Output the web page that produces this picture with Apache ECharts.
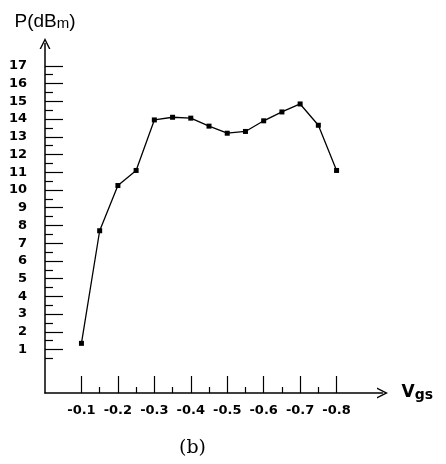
<!DOCTYPE html>
<html>
<head>
<meta charset="utf-8">
<script src="https://cdn.jsdelivr.net/npm/echarts@6/dist/echarts.min.js"></script>
<style>
  html, body { margin: 0; padding: 0; background: #fff; }
  #chart { width: 446px; height: 464px; }
</style>
</head>
<body>
<div id="chart"></div>
<script>
// Vgs (V) 和 输出功率 P (dBm)
var vgs = [-0.1, -0.15, -0.2, -0.25, -0.3, -0.35, -0.4, -0.45, -0.5, -0.55, -0.6, -0.65, -0.7, -0.75, -0.8];
var power = [1.35, 7.7, 10.25, 11.1, 13.95, 14.1, 14.05, 13.6, 13.2, 13.3, 13.9, 14.4, 14.85, 13.65, 11.1];

// 刻度
var xMajorTicks = [-0.1, -0.2, -0.3, -0.4, -0.5, -0.6, -0.7, -0.8];
var xMinorTicks = [-0.15, -0.25, -0.35, -0.45, -0.55, -0.65, -0.75];
var yMajorTicks = [1, 2, 3, 4, 5, 6, 7, 8, 9, 10, 11, 12, 13, 14, 15, 16, 17];
var yMinorTicks = [0.5, 1.5, 2.5, 3.5, 4.5, 5.5, 6.5, 7.5, 8.5, 9.5, 10.5, 11.5, 12.5, 13.5, 14.5, 15.5, 16.5];

var myChart = echarts.init(document.getElementById('chart'));

// 开口箭头
var arrowPath = 'path://M0,10 L5,0 L10,10 L8.6,10 L5,2.8 L1.4,10 Z';
var tickFont = {
    fontFamily: 'DejaVu Sans',
    fontWeight: 'bold',
    fontSize: 13,
    color: '#000'
};

var data = [];
for (var i = 0; i < vgs.length; i++) {
    data.push([vgs[i], power[i]]);
}

var xMin = -0.926, xMax = 0;
var yMin = -1.45, yMax = 18.26;

var option = {
    animation: false,
    backgroundColor: '#fff',
    title: {
        text: '(b)',
        left: 174,
        top: 434,
        textStyle: {
            fontFamily: 'DejaVu Serif',
            fontWeight: 'normal',
            fontSize: 19,
            color: '#000'
        }
    },
    grid: {
        left: 45,
        right: 63.5,
        top: 43.5,
        bottom: 71
    },
    xAxis: [{
        type: 'value',
        position: 'bottom',
        inverse: true,
        min: xMin,
        max: xMax,
        splitLine: { show: false },
        axisLine: {
            onZero: false,
            symbol: ['none', arrowPath],
            symbolSize: [13, 11],
            lineStyle: { color: '#000', width: 1.5 }
        },
        axisTick: {
            inside: true,
            length: 17,
            customValues: xMajorTicks,
            lineStyle: { color: '#000', width: 1.2 }
        },
        axisLabel: Object.assign({
            customValues: xMajorTicks,
            margin: 11
        }, tickFont),
        name: '{v|V}{s|gs}',
        nameLocation: 'start',
        nameGap: 19,
        nameTextStyle: {
            rich: {
                v: { fontFamily: 'DejaVu Sans', fontWeight: 'bold', fontSize: 17, color: '#000' },
                s: { fontFamily: 'DejaVu Sans', fontWeight: 'bold', fontSize: 14, color: '#000', padding: [4, 0, 0, 0] }
            }
        }
    }, {
        type: 'value',
        position: 'bottom',
        inverse: true,
        min: xMin,
        max: xMax,
        splitLine: { show: false },
        axisLine: { show: false, onZero: false },
        axisTick: {
            inside: true,
            length: 6,
            customValues: xMinorTicks,
            lineStyle: { color: '#000', width: 1.2 }
        },
        axisLabel: { show: false }
    }],
    yAxis: [{
        type: 'value',
        position: 'left',
        min: yMin,
        max: yMax,
        splitLine: { show: false },
        axisLine: {
            onZero: false,
            symbol: ['none', arrowPath],
            symbolSize: [13, 11],
            lineStyle: { color: '#000', width: 1.5 }
        },
        axisTick: {
            inside: true,
            length: 18,
            customValues: yMajorTicks,
            lineStyle: { color: '#000', width: 1.2 }
        },
        axisLabel: Object.assign({
            customValues: yMajorTicks,
            margin: 18,
            padding: [8, 0, 0, 0]
        }, tickFont),
        name: '{a|P(dB}{m|m}{a|)}',
        nameLocation: 'end',
        nameGap: 12,
        nameTextStyle: {
            rich: {
                a: { fontFamily: 'Liberation Sans', fontSize: 19, color: '#000' },
                m: { fontFamily: 'Liberation Sans', fontSize: 15, color: '#000', padding: [3, 0, 0, 0] }
            }
        }
    }, {
        type: 'value',
        position: 'left',
        min: yMin,
        max: yMax,
        splitLine: { show: false },
        axisLine: { show: false, onZero: false },
        axisTick: {
            inside: true,
            length: 8,
            customValues: yMinorTicks,
            lineStyle: { color: '#000', width: 1.2 }
        },
        axisLabel: { show: false }
    }],
    series: [{
        name: 'P',
        type: 'line',
        xAxisIndex: 0,
        yAxisIndex: 0,
        data: data,
        symbol: 'rect',
        symbolSize: 5,
        itemStyle: { color: '#000' },
        lineStyle: { color: '#000', width: 1.3 }
    }]
};

myChart.setOption(option);
</script>
</body>
</html>
